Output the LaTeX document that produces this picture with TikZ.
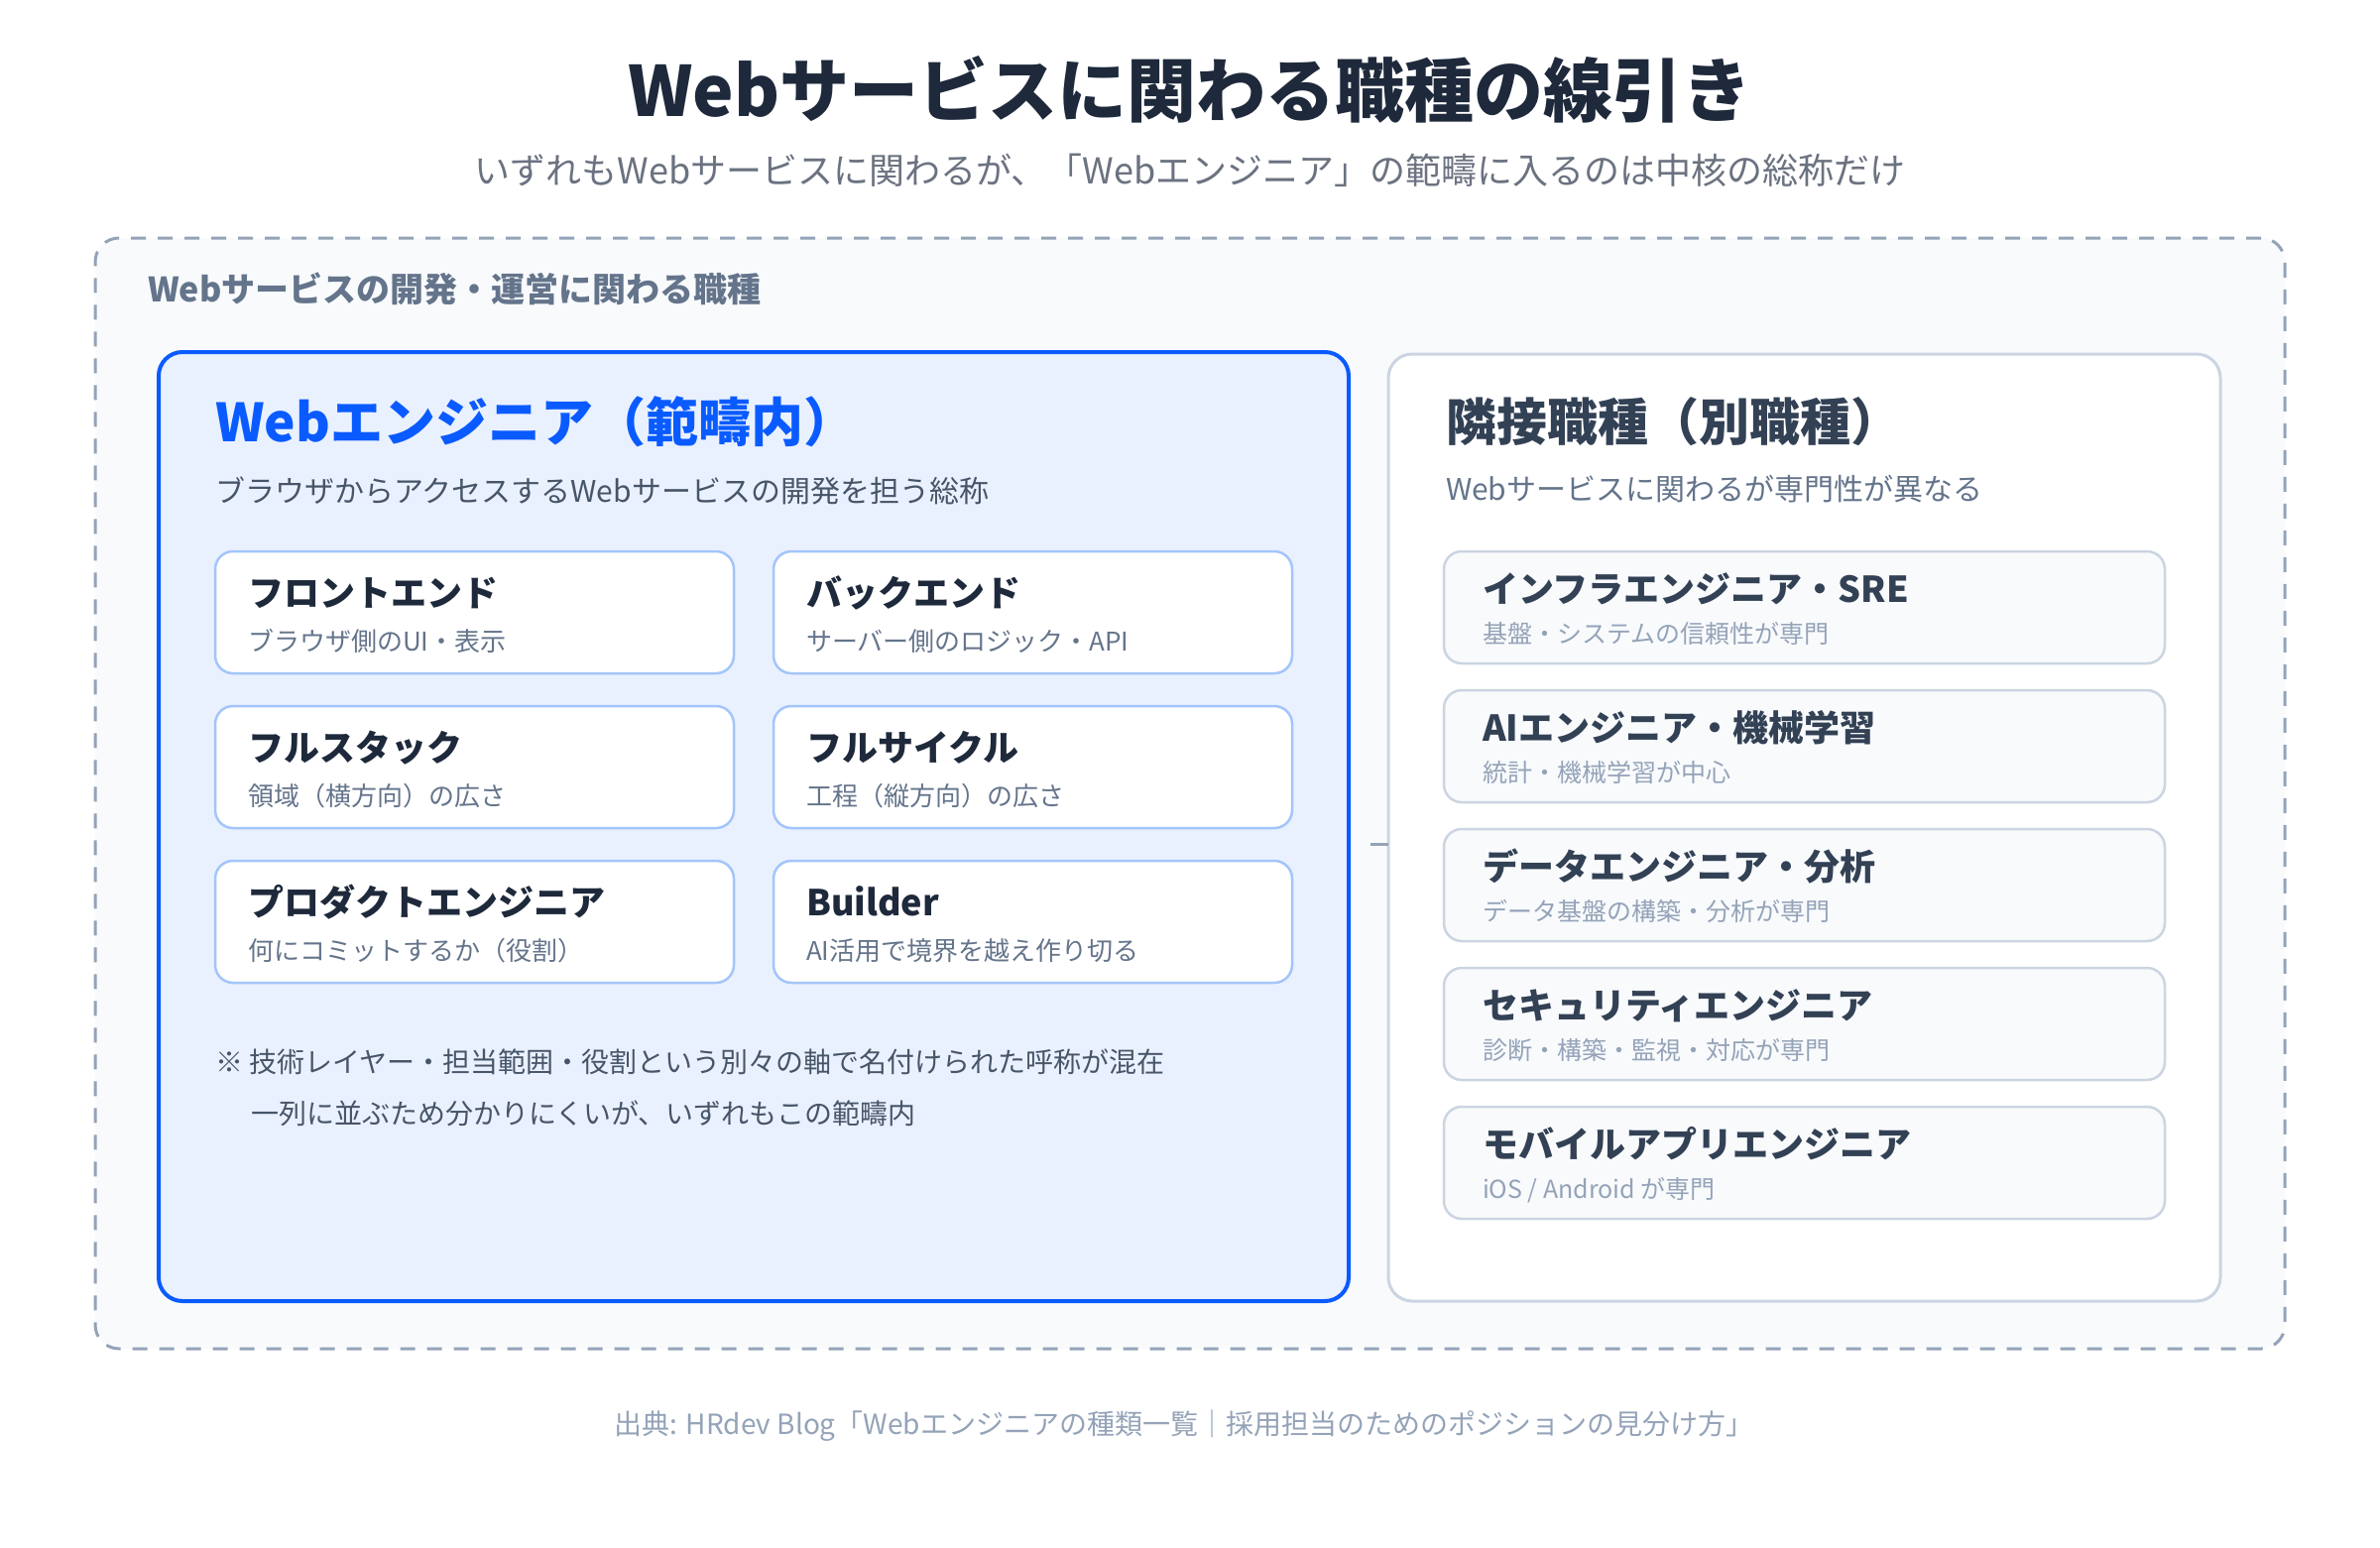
\documentclass[tikz,border=0pt]{standalone}
\usepackage{fontspec}
\setmainfont{Noto Sans CJK JP}
\newfontfamily\heavyfont{Noto Sans CJK JP Black}
\usepackage{xcolor}
\usepackage{tikz}
\usetikzlibrary{positioning}

\definecolor{ink}{HTML}{1E293B}
\definecolor{mute}{HTML}{6B7280}
\definecolor{slate}{HTML}{64748B}
\definecolor{slatedark}{HTML}{475569}
\definecolor{slateink}{HTML}{334155}
\definecolor{faint}{HTML}{94A3B8}
\definecolor{webblue}{HTML}{0A5BFF}
\definecolor{webbg}{HTML}{EAF1FE}
\definecolor{webline}{HTML}{A3C5FB}
\definecolor{greyline}{HTML}{CBD5E1}
\definecolor{fieldbg}{HTML}{F8FAFC}

\begin{document}
\begin{tikzpicture}[x=1pt, y=-1pt,
    every node/.style={inner sep=0pt, outer sep=0pt},
    sz/.style={font=\fontsize{#1pt}{#1pt}\selectfont, text height={0.88*#1pt}, text depth={0.12*#1pt}},
    bf/.style={execute at begin node=\bfseries},
    panel/.style={draw, rounded corners=24pt, anchor=north west},
    card/.style={draw, rounded corners=18pt, anchor=north west, line width=2.5pt}]
            \useasboundingbox [fill=white] (0,0) rectangle (2400,1560);

            % Heading
            \node (title) [sz=70, execute at begin node=\heavyfont, text=ink] at (1200,91) {Webサービスに関わる職種の線引き};
            \node (subtitle) [sz=36, text=mute] at (1200,172) {いずれもWebサービスに関わるが、「Webエンジニア」の範疇に入るのは中核の総称だけ};

            % Outer field
            \node (field) [panel, draw=faint, fill=fieldbg, line width=3pt, dash pattern=on 15pt off 12pt,
                minimum width=2208pt, minimum height=1120pt] at (96,240) {};
            \node (fieldlbl) [sz=34, bf, text=slate, anchor=west] at (149,292) {Webサービスの開発・運営に関わる職種};

            % Web engineer box
            \node (web) [panel, draw=webblue, fill=webbg, line width=4pt,
                minimum width=1200pt, minimum height=957pt] at (160,355) {};
            \node (webttl) [sz=53, bf, text=webblue, anchor=west] at (217,425) {Webエンジニア（範疇内）};
            \node (websub) [sz=30, text=slatedark, anchor=west] at (217,495) {ブラウザからアクセスするWebサービスの開発を担う総称};
            \foreach \n/\col/\row/\ttl/\desc in {fe/0/0/フロントエンド/ブラウザ側のUI・表示,
                    be/1/0/バックエンド/サーバー側のロジック・API,
                    fs/0/1/フルスタック/領域（横方向）の広さ,
                    fc/1/1/フルサイクル/工程（縦方向）の広さ,
                    pe/0/2/プロダクトエンジニア/何にコミットするか（役割）,
                    bd/1/2/Builder/AI活用で境界を越え作り切る} {
                \node (\n) [card, draw=webline, fill=white, minimum width=523pt, minimum height=123pt]
                    at ({217+563*\col},{556+156*\row}) {};
                \node (\n-t) [sz=36, bf, text=ink, anchor=west] at ([shift={(33,42)}]\n.north west) {\ttl};
                \node (\n-d) [sz=26, text=slate, anchor=west] at ([shift={(33,91)}]\n.north west) {\desc};
            }
            \node (note1) [sz=28, text=slatedark, anchor=west] at (217,1071) {※ 技術レイヤー・担当範囲・役割という別々の軸で名付けられた呼称が混在};
            \node (note2) [sz=28, text=slatedark, anchor=west] at (253,1123) {一列に並ぶため分かりにくいが、いずれもこの範疇内};

            % Adjacent jobs box
            \node (adj) [panel, draw=greyline, fill=white, line width=3pt,
                minimum width=839pt, minimum height=955pt] at (1400,357) {};
            \node (adjttl) [sz=51, bf, text=slateink, anchor=west] at (1458,425) {隣接職種（別職種）};
            \node (adjsub) [sz=30, text=slate, anchor=west] at (1458,493) {Webサービスに関わるが専門性が異なる};
            \foreach \n/\i/\ttl/\desc in {infra/0/インフラエンジニア・SRE/基盤・システムの信頼性が専門,
                    ai/1/AIエンジニア・機械学習/統計・機械学習が中心,
                    data/2/データエンジニア・分析/データ基盤の構築・分析が専門,
                    sec/3/セキュリティエンジニア/診断・構築・監視・対応が専門,
                    mob/4/モバイルアプリエンジニア/{iOS / Android が専門}} {
                \node (\n) [card, draw=greyline, fill=fieldbg, minimum width=727pt, minimum height=113pt]
                    at ({1456},{556+140*\i}) {};
                \node (\n-t) [sz=36, bf, text=slateink, anchor=west] at ([shift={(39,38)}]\n.north west) {\ttl};
                \node (\n-d) [sz=25, text=faint, anchor=west] at ([shift={(39,83)}]\n.north west) {\desc};
            }

            % Link between the boxes
            \coordinate (gap) at (1382,851);
            \draw [faint, line width=3pt] (gap) -- (gap -| adj.west);

            % Source
            \node (src) [sz=28, text=faint] at (1194,1436) {出典: HRdev Blog「Webエンジニアの種類一覧｜採用担当のためのポジションの見分け方」};
        \end{tikzpicture}
\end{document}
